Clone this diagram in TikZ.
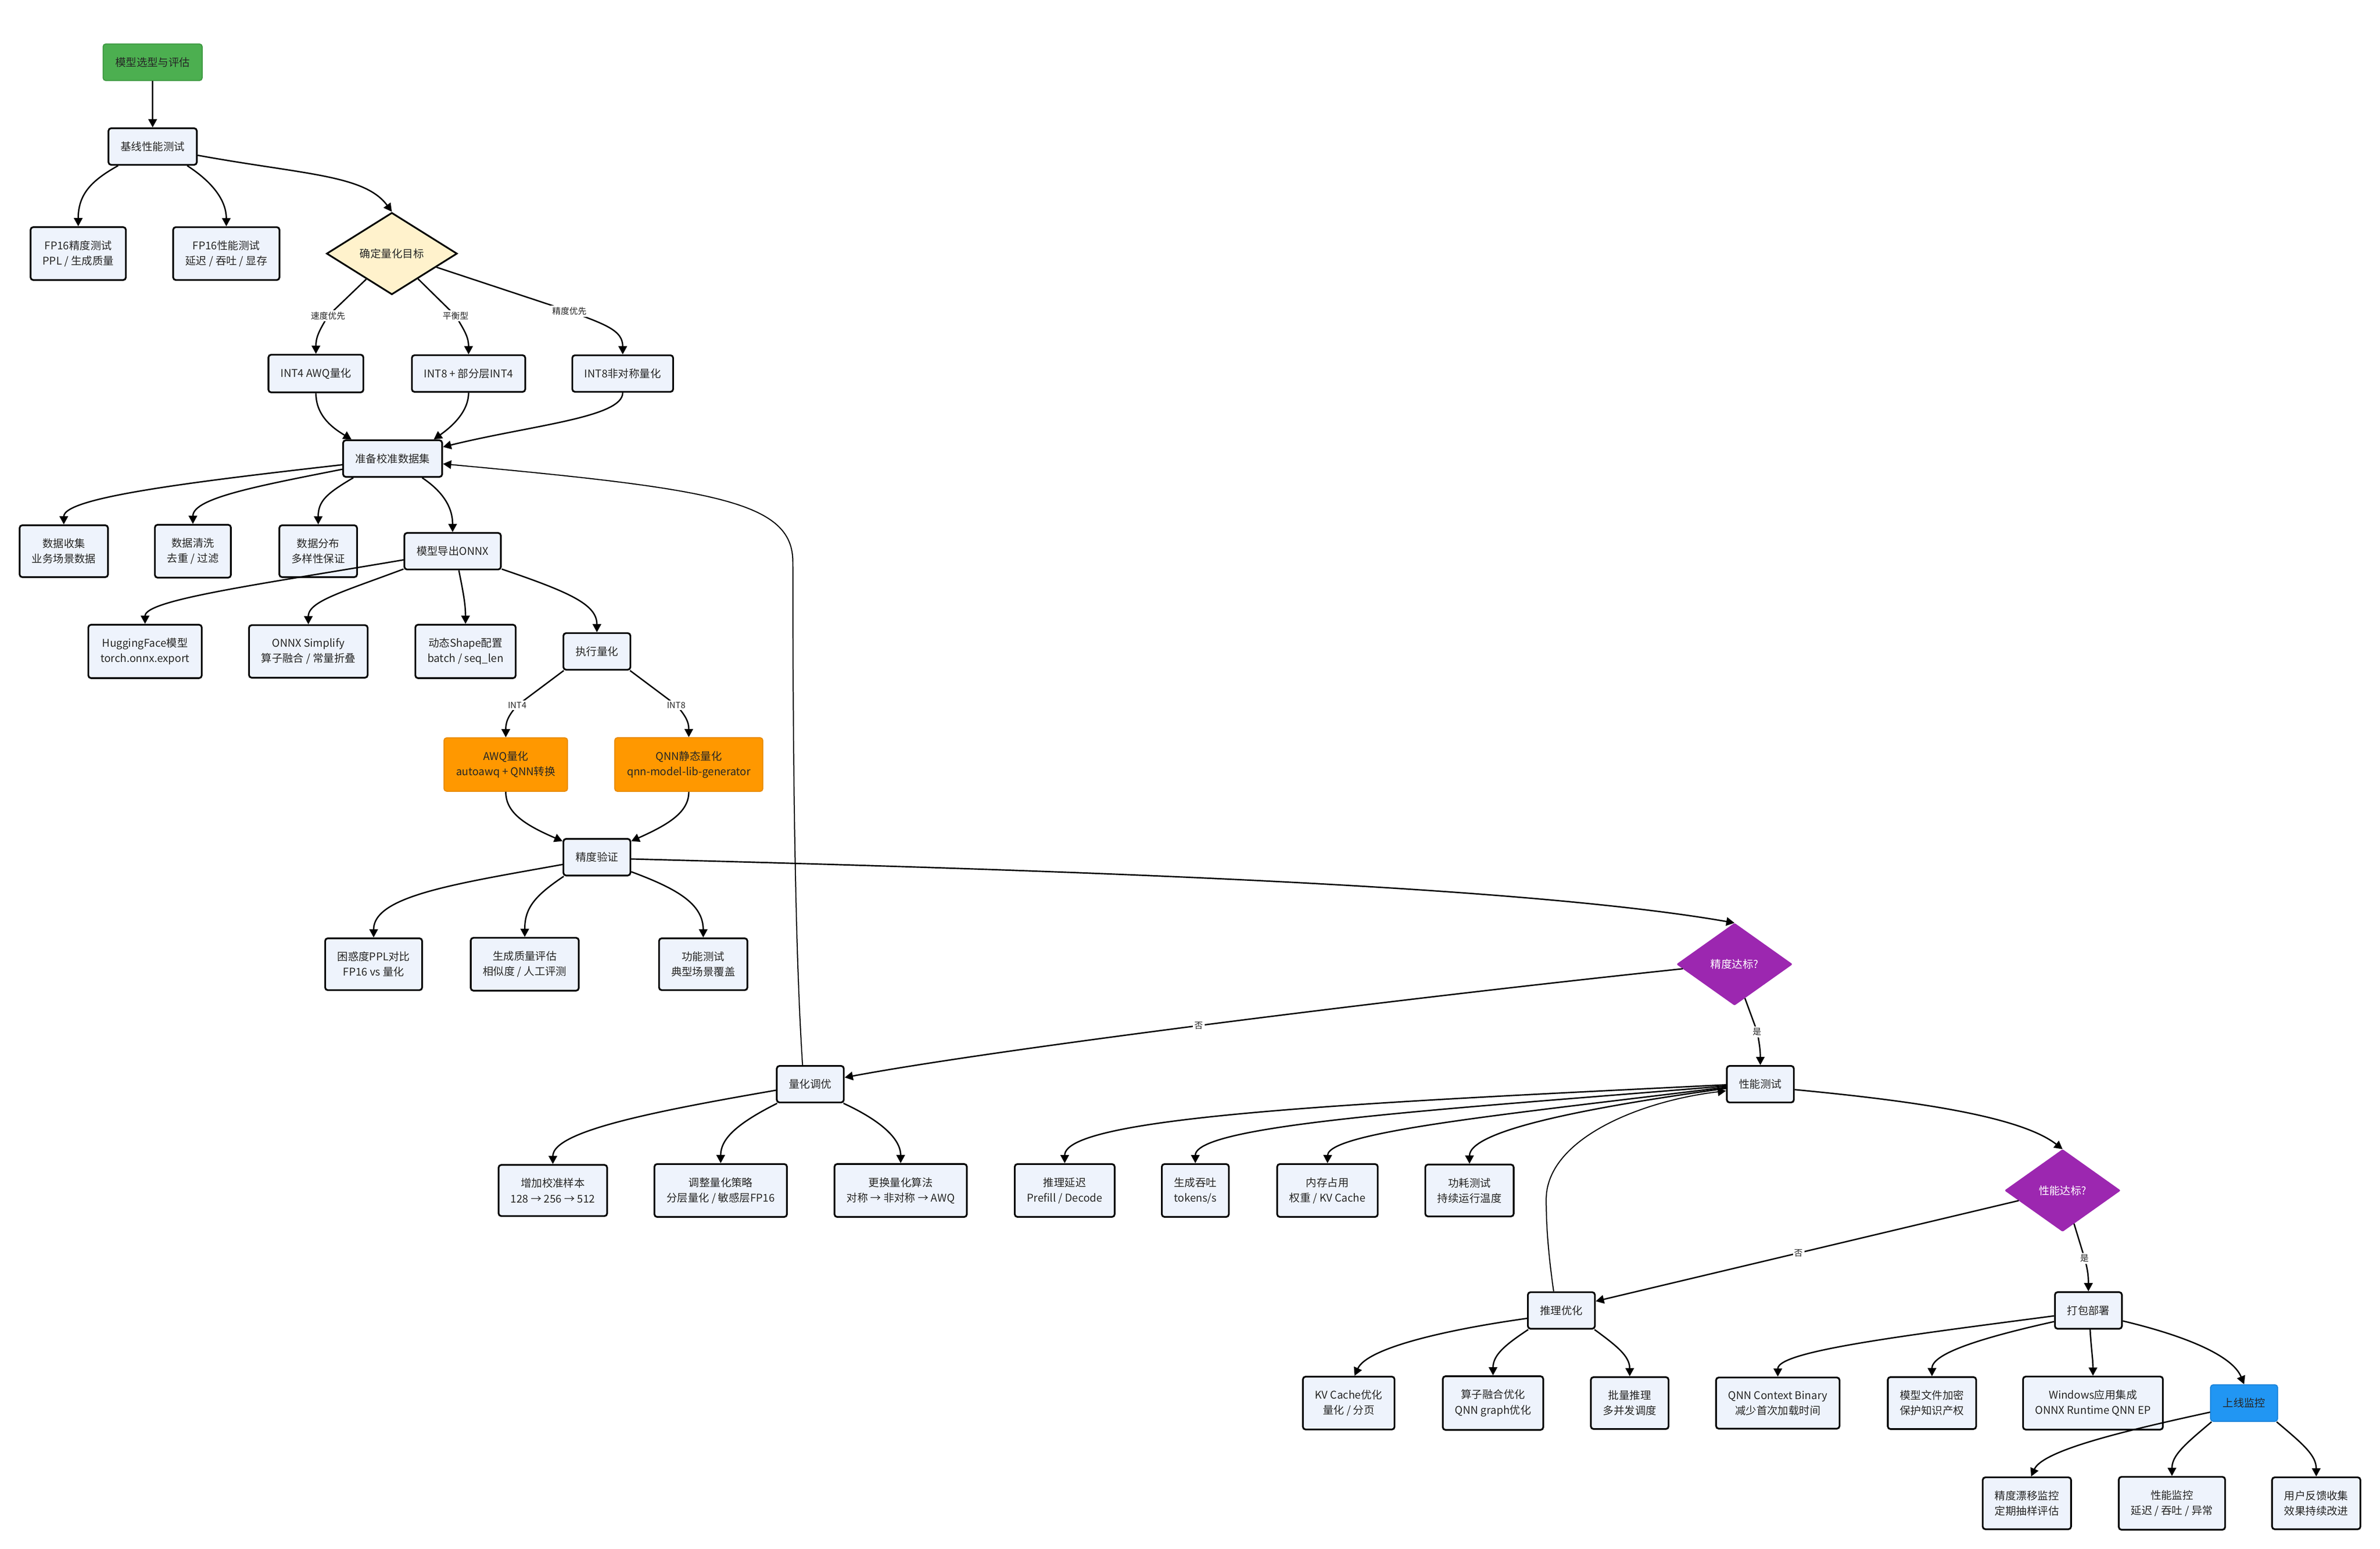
\documentclass[tikz,border=0pt]{standalone}
\usepackage{fontspec}
\setmainfont{Noto Sans CJK SC}
\usetikzlibrary{shapes.geometric,arrows.meta}
\definecolor{boxfill}{HTML}{EEF3FC}
\definecolor{startgreen}{HTML}{4CAF50}
\definecolor{startedge}{HTML}{3E9A42}
\definecolor{hotorange}{HTML}{FF9800}
\definecolor{hotedge}{HTML}{E88A00}
\definecolor{checkpurple}{HTML}{9C27B0}
\definecolor{liveblue}{HTML}{2196F3}
\definecolor{liveedge}{HTML}{1C84DA}
\definecolor{goalyellow}{HTML}{FFF2CC}
\begin{document}
\begin{tikzpicture}[x=0.05cm,y=0.05cm,
    plainbox/.style={draw=black,line width=1.6pt,rounded corners=2.5pt,fill=boxfill,align=center,
      inner xsep=0.4cm,inner ysep=0.44cm,font=\fontsize{10}{14.3}\selectfont,text=black!85},
    greenbox/.style={plainbox,draw=startedge,line width=1pt,fill=startgreen},
    orangebox/.style={plainbox,draw=hotedge,line width=1pt,fill=hotorange},
    bluebox/.style={plainbox,draw=liveedge,line width=1pt,fill=liveblue},
    yellowdia/.style={diamond,aspect=1.6,draw=black,line width=1.6pt,fill=goalyellow,inner sep=0pt,
      minimum width=4.3cm,minimum height=2.7cm,font=\fontsize{10}{14.3}\selectfont,text=black!85},
    purpledia/.style={diamond,aspect=1.4,draw=checkpurple,line width=0.6pt,fill=checkpurple,rounded corners=1pt,
      inner sep=0pt,minimum width=3.8cm,minimum height=2.7cm,font=\fontsize{10}{14.3}\selectfont,text=white},
    edgelbl/.style={fill=white,inner sep=1.5pt,font=\fontsize{8}{9}\selectfont,text=black!85},
    flow/.style={line width=1.3pt,-{Triangle[length=7.7pt,width=8pt]}},
    loopback/.style={flow,line width=1pt}]
  \useasboundingbox (0,0) rectangle (1567,-1020);

  \node[greenbox] (select) at (100.5,-41) {模型选型与评估};
  \node[plainbox] (base) at (100.5,-96.5) {基线性能测试};
  \node[plainbox] (fpacc) at (51.5,-167) {FP16精度测试\\PPL / 生成质量};
  \node[plainbox] (fpperf) at (149,-167) {FP16性能测试\\延迟 / 吞吐 / 显存};
  \node[yellowdia] (goal) at (258,-167) {确定量化目标};
  \node[plainbox] (int4) at (208,-246) {INT4 AWQ量化};
  \node[plainbox] (mixed) at (308.5,-246) {INT8 + 部分层INT4};
  \node[plainbox] (int8) at (410,-246) {INT8非对称量化};
  \node[plainbox] (calib) at (258.5,-302) {准备校准数据集};
  \node[plainbox] (collect) at (42,-363) {数据收集\\业务场景数据};
  \node[plainbox] (clean) at (127,-363) {数据清洗\\去重 / 过滤};
  \node[plainbox] (distrib) at (209.5,-363) {数据分布\\多样性保证};
  \node[plainbox] (export) at (298,-363) {模型导出ONNX};
  \node[plainbox] (hf) at (95.5,-429) {HuggingFace模型\\torch.onnx.export};
  \node[plainbox] (simplify) at (203,-429) {ONNX Simplify\\算子融合 / 常量折叠};
  \node[plainbox] (shape) at (306.5,-429) {动态Shape配置\\batch / seq\_len};
  \node[plainbox] (quant) at (393,-429) {执行量化};
  \node[orangebox] (awq) at (333,-503.5) {AWQ量化\\autoawq + QNN转换};
  \node[orangebox] (qnn) at (453.5,-503.5) {QNN静态量化\\qnn-model-lib-generator};
  \node[plainbox] (verify) at (393,-564.5) {精度验证};
  \node[plainbox] (ppl) at (246,-635) {困惑度PPL对比\\FP16 vs 量化};
  \node[plainbox] (genq) at (345.5,-635) {生成质量评估\\相似度 / 人工评测};
  \node[plainbox] (func) at (463,-635) {功能测试\\典型场景覆盖};
  \node[purpledia] (accok) at (1142,-635) {精度达标?};
  \node[plainbox] (tune) at (533.5,-714) {量化调优};
  \node[plainbox] (moresamp) at (364,-784) {增加校准样本\\128 → 256 → 512};
  \node[plainbox] (strategy) at (474.5,-784) {调整量化策略\\分层量化 / 敏感层FP16};
  \node[plainbox] (algo) at (593,-784) {更换量化算法\\对称 → 非对称 → AWQ};
  \node[plainbox] (perf) at (1159,-714) {性能测试};
  \node[plainbox] (latency) at (701,-784) {推理延迟\\Prefill / Decode};
  \node[plainbox] (thru) at (787,-784) {生成吞吐\\tokens/s};
  \node[plainbox] (mem) at (874,-784) {内存占用\\权重 / KV Cache};
  \node[plainbox] (power) at (967.5,-784) {功耗测试\\持续运行温度};
  \node[purpledia] (perfok) at (1358,-784) {性能达标?};
  \node[plainbox] (infopt) at (1028,-863) {推理优化};
  \node[plainbox] (pack) at (1375,-863) {打包部署};
  \node[plainbox] (kv) at (888,-924) {KV Cache优化\\量化 / 分页};
  \node[plainbox] (fuse) at (983,-924) {算子融合优化\\QNN graph优化};
  \node[plainbox] (batch) at (1073,-924) {批量推理\\多并发调度};
  \node[plainbox] (ctxbin) at (1170.5,-924) {QNN Context Binary\\减少首次加载时间};
  \node[plainbox] (encrypt) at (1272,-924) {模型文件加密\\保护知识产权};
  \node[plainbox] (win) at (1378,-924) {Windows应用集成\\ONNX Runtime QNN EP};
  \node[bluebox] (monitor) at (1477.5,-924) {上线监控};
  \node[plainbox] (drift) at (1334.5,-990) {精度漂移监控\\定期抽样评估};
  \node[plainbox] (perfmon) at (1430,-990) {性能监控\\延迟 / 吞吐 / 异常};
  \node[plainbox] (feedback) at (1525,-990) {用户反馈收集\\效果持续改进};

  \draw[flow] (select) -- (base);
  \draw[flow] (base.-151) .. controls (60,-119) and (51.5,-128) .. (fpacc.north);
  \draw[flow] (base.-29) .. controls (140,-120) and (149,-132) .. (fpperf.north);
  \draw[flow] (base.-11) .. controls (200,-115) and (240,-115) .. (goal.north);
  \draw[flow] (goal.-135) -- (216,-208) node[edgelbl]{速度优先} .. controls (210,-218) and (208,-222) .. (int4.north);
  \draw[flow] (goal.-44) -- (300,-208) node[edgelbl]{平衡型} .. controls (306,-218) and (308.5,-222) .. (mixed.north);
  \draw[flow] (goal.-17) -- (375,-205) node[edgelbl]{精度优先} .. controls (400,-214) and (410,-218) .. (int8.north);
  \draw[flow] (int4.south) .. controls (208,-275) and (221,-283) .. (calib.155);
  \draw[flow] (mixed.south) .. controls (308.5,-272) and (296,-282) .. (calib.25);
  \draw[flow] (int8.south) .. controls (410,-275) and (350,-280) .. (calib.13);
  \draw[loopback] (tune.112) .. controls (523,-620) and (522,-480) .. (522,-370) .. controls (522,-330) and (470,-322) .. (calib.-6);
  \draw[flow] (calib.-173) .. controls (120,-318) and (42,-328) .. (collect.north);
  \draw[flow] (calib.-168) .. controls (170,-320) and (127,-328) .. (clean.north);
  \draw[flow] (calib.-154) .. controls (215,-325) and (209.5,-330) .. (distrib.north);
  \draw[flow] (calib.-33) .. controls (289,-322) and (298,-332) .. (export.north);
  \draw[flow] (export.-170) .. controls (170,-385) and (95.5,-395) .. (hf.north);
  \draw[flow] (export.-160) .. controls (225,-390) and (203,-396) .. (simplify.north);
  \draw[flow] (export.-72) .. controls (305,-390) and (306.5,-398) .. (shape.north);
  \draw[flow] (export.-20) .. controls (375,-390) and (393,-398) .. (quant.north);
  \draw[flow] (quant.-150) -- (340.6,-464.5) node[edgelbl]{INT4} .. controls (334,-472) and (333,-476) .. (awq.north);
  \draw[flow] (quant.-30) -- (445.4,-464.5) node[edgelbl]{INT8} .. controls (452,-472) and (453.5,-476) .. (qnn.north);
  \draw[flow] (awq.south) .. controls (333,-535) and (345,-543) .. (verify.155);
  \draw[flow] (qnn.south) .. controls (453.5,-535) and (440,-543) .. (verify.25);
  \draw[flow] (verify.-168) .. controls (300,-582) and (246,-590) .. (ppl.north);
  \draw[flow] (verify.-150) .. controls (352,-590) and (345.5,-598) .. (genq.north);
  \draw[flow] (verify.-23) .. controls (445,-585) and (463,-595) .. (func.north);
  \draw[flow] (verify.-3) .. controls (700,-573) and (1000,-583) .. (accok.north);
  \draw[flow] (accok.185) .. controls (900,-660) and (650,-692) .. (tune.11) node[edgelbl,pos=0.5]{否};
  \draw[flow] (accok.-73) -- (1157,-679.6) node[edgelbl]{是} .. controls (1158.5,-688) and (1159,-692) .. (perf.north);
  \draw[flow] (tune.-170) .. controls (430,-732) and (364,-745) .. (moresamp.north);
  \draw[flow] (tune.-150) .. controls (485,-740) and (474.5,-750) .. (strategy.north);
  \draw[flow] (tune.-30) .. controls (580,-738) and (593,-750) .. (algo.north);
  \draw[flow] (perf.-179) .. controls (900,-726) and (701,-735) .. (latency.north);
  \draw[flow] (perf.-177) .. controls (960,-730) and (787,-740) .. (thru.north);
  \draw[flow] (perf.-175) .. controls (1000,-733) and (874.5,-745) .. (mem.north);
  \draw[flow] (perf.-173) .. controls (1040,-730) and (967.5,-745) .. (power.north);
  \draw[loopback] (infopt.112) .. controls (1020,-830) and (1018,-810) .. (1018,-790) .. controls (1018,-750) and (1080,-725) .. (perf.-169);
  \draw[flow] (perf.-9) .. controls (1260,-725) and (1330,-735) .. (perfok.north);
  \draw[flow] (perfok.193) -- (infopt.15) node[edgelbl,pos=0.52]{否};
  \draw[flow] (perfok.-71) -- (1372.5,-828.7) node[edgelbl]{是} .. controls (1374.5,-836) and (1375,-840) .. (pack.north);
  \draw[flow] (infopt.-167) .. controls (950,-876) and (900,-888) .. (kv.78);
  \draw[flow] (infopt.-150) .. controls (992,-885) and (983,-892) .. (fuse.north);
  \draw[flow] (infopt.-30) .. controls (1064,-886) and (1073,-893) .. (batch.north);
  \draw[flow] (pack.-171) .. controls (1250,-880) and (1170.5,-890) .. (ctxbin.north);
  \draw[flow] (pack.-162) .. controls (1300,-882) and (1272,-892) .. (encrypt.north);
  \draw[flow] (pack.-85) .. controls (1377,-890) and (1378,-895) .. (win.north);
  \draw[flow] (pack.-17) .. controls (1440,-880) and (1470,-893) .. (monitor.north);
  \draw[flow] (monitor.-165) .. controls (1400,-942) and (1345,-955) .. (drift.81);
  \draw[flow] (monitor.-150) .. controls (1440,-950) and (1430,-958) .. (perfmon.north);
  \draw[flow] (monitor.-30) .. controls (1515,-950) and (1525,-958) .. (feedback.north);
\end{tikzpicture}
\end{document}
